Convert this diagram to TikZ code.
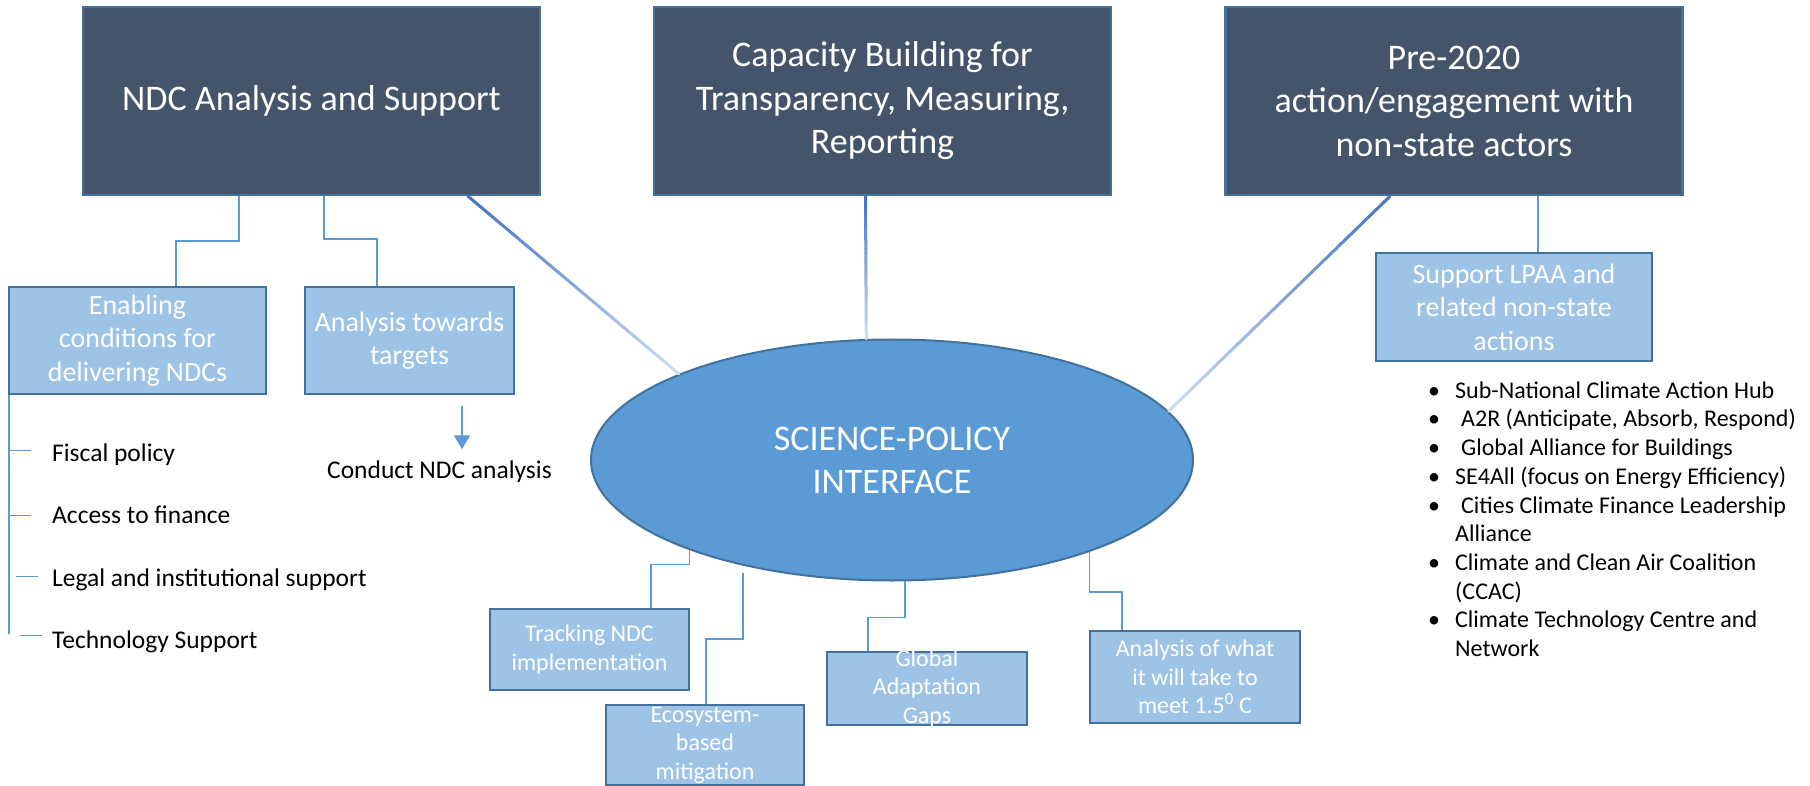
\documentclass[tikz,border=0pt]{standalone}
\usepackage{fontspec}
\setmainfont{Carlito}
\usetikzlibrary{calc,arrows.meta,shapes.geometric}

\definecolor{slate}{HTML}{44546A}
\definecolor{edge}{HTML}{41719C}
\definecolor{pale}{HTML}{9DC3E6}
\definecolor{sky}{HTML}{5B9BD5}
\definecolor{fadeA}{HTML}{4472C4}
\definecolor{fadeB}{HTML}{C9DCF4}

\newcommand{\fadeline}[2]{%
  \foreach \k in {0,...,29}{%
    \pgfmathtruncatemacro{\pc}{100-\k*100/29}%
    \pgfmathsetmacro{\ta}{\k/30}%
    \pgfmathsetmacro{\tb}{(\k+1)/30}%
    \draw[line width=3pt, line cap=round, fadeA!\pc!fadeB]
      ($(#1)!\ta!(#2)$) -- ($(#1)!\tb!(#2)$);}}

\begin{document}
\begin{tikzpicture}[x=1pt, y=-1pt,
  topbox/.style={draw=edge, line width=2.5pt, fill=slate, text=white, align=center,
    inner sep=0pt, minimum width=457pt, minimum height=188pt,
    font=\fontsize{36}{43.5}\selectfont},
  midbox/.style={draw=edge, line width=2.5pt, fill=pale, text=white, align=center,
    inner sep=0pt, minimum height=107pt, font=\fontsize{28}{33.5}\selectfont},
  lowbox/.style={draw=edge, line width=2.5pt, fill=pale, inner sep=0pt},
  lowtext/.style={text=white, align=center, font=\fontsize{24}{28.5}\selectfont},
  item/.style={anchor=base west, inner sep=0pt, font=\fontsize{25.5}{30}\selectfont},
  conn/.style={draw=sky, line width=1.5pt}]
  \useasboundingbox (0,0) rectangle (1810,786);

  \node[topbox] (ndc) at (311.5,101) {NDC Analysis and Support};
  \node[topbox] (cap) at (882.5,101) {Capacity Building for\\Transparency, Measuring,\\Reporting};
  \node[topbox] (pre) at (1454,101) {Pre-2020\\action/engagement with\\non-state actors};

  \node[midbox, minimum width=257pt] (enab) at (137.5,340.5) {Enabling\\conditions for\\delivering NDCs};
  \node[midbox, minimum width=209pt] (targ) at (409.5,340.5) {Analysis towards\\targets};
  \node[midbox, minimum width=276pt, minimum height=108pt] (lpaa) at (1514,307) {Support LPAA and\\related non-state\\actions};

  \node[ellipse, draw=edge, line width=2pt, fill=sky, text=white, align=center, inner sep=0pt,
    minimum width=602pt, minimum height=241pt, font=\fontsize{36}{43}\selectfont]
    (spi) at (892,460) {SCIENCE-POLICY\\INTERFACE};

  \node[lowbox, minimum width=199pt, minimum height=81pt,
    label={[lowtext]center:{Tracking NDC\\implementation}}] (track) at (589.5,649.5) {};
  \node[lowbox, minimum width=198pt, minimum height=80pt,
    label={[lowtext]center:{Ecosystem-\\based\\mitigation}}] (eco) at (705,745) {};
  \node[lowbox, minimum width=200pt, minimum height=73pt,
    label={[lowtext]center:{Global\\Adaptation\\Gaps}}] (gag) at (927,688.5) {};
  \node[lowbox, minimum width=210pt, minimum height=92pt,
    label={[lowtext]center:{Analysis of what\\it will take to\\meet 1.5\textsuperscript{0} C}}] (meet) at (1195,677) {};

  \node[item] (fiscal) at (52,461) {Fiscal policy};
  \node[item] (finance) at (52,523) {Access to finance};
  \node[item] (legal) at (52,586) {Legal and institutional support};
  \node[item] (techsup) at (52,648) {Technology Support};
  \node[item] (conduct) at (327,478) {Conduct NDC analysis};

  \node[anchor=north west, inner sep=0pt, font=\fontsize{24}{28.7}\selectfont] (hubs) at (1428,378) {%
    \begin{tabular}{@{}l@{}}
      \makebox[27pt][l]{•}Sub-National Climate Action Hub\\
      \makebox[27pt][l]{•}\hspace{6pt}A2R (Anticipate, Absorb, Respond)\\
      \makebox[27pt][l]{•}\hspace{6pt}Global Alliance for Buildings\\
      \makebox[27pt][l]{•}SE4All (focus on Energy Efficiency)\\
      \makebox[27pt][l]{•}\hspace{6pt}Cities Climate Finance Leadership\\
      \hspace*{27pt}Alliance\\
      \makebox[27pt][l]{•}Climate and Clean Air Coalition\\
      \hspace*{27pt}(CCAC)\\
      \makebox[27pt][l]{•}Climate Technology Centre and\\
      \hspace*{27pt}Network
    \end{tabular}};

  \draw[conn] ([xshift=-72.5pt]ndc.south) -- ++(0,45) -| ([xshift=38.5pt]enab.north);
  \draw[conn] ([xshift=12.5pt]ndc.south) -- ++(0,43) -| ([xshift=-32.5pt]targ.north);
  \draw[conn] ([xshift=84pt]pre.south) -- ([xshift=24pt]lpaa.north);

  \coordinate (g1) at ([xshift=156.5pt]ndc.south);
  \coordinate (g2) at ([xshift=-17pt]cap.south);
  \coordinate (g3) at ([xshift=-64pt]pre.south);
  \fadeline{g1}{spi.158}
  \fadeline{g2}{spi.102}
  \fadeline{g3}{spi.10}

  \coordinate (spine) at ([xshift=1pt]enab.south west);
  \draw[conn] (spine) -- ++(0,239);
  \draw[conn] ($(spine)+(0,55)$) -- ++(22,0);
  \draw[conn] ($(spine)+(0,120)$) -- ++(22,0);
  \draw[conn] ($(spine)+(7,181)$) -- ++(22,0);
  \draw[conn] ($(spine)+(11,240)$) -- ++(22,0);

  \draw[sky, line width=2pt, -{Triangle[width=16pt,length=14pt]}]
    ([xshift=52.5pt,yshift=-11pt]targ.south) -- ++(0,43);

  \draw[conn] (spi.204) -- ++(0,14.5) -| ([xshift=61.5pt]track.north);
  \coordinate (ecoend) at (743,573);
  \draw[conn] (ecoend) -- ++(0,66) -| ([xshift=1pt]eco.north);
  \draw[conn] (spi.276) -- ++(0,36) -| ([xshift=-59pt]gag.north);
  \draw[conn] (spi.335) -- ++(0,40) -| ([xshift=-73pt]meet.north);
\end{tikzpicture}
\end{document}
